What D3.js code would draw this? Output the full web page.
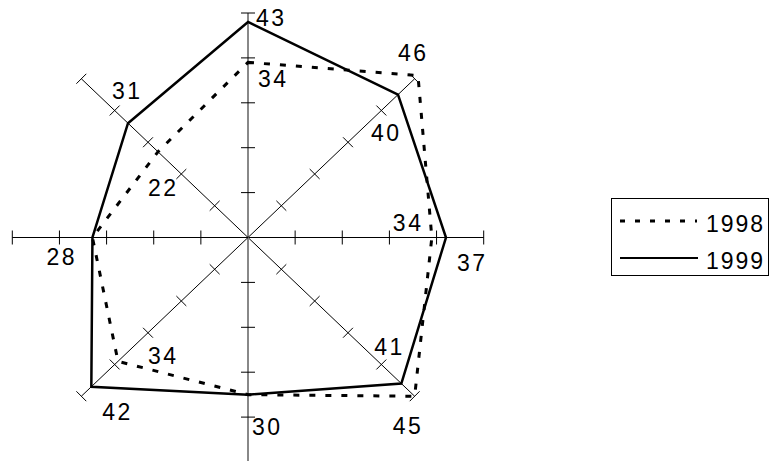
<!DOCTYPE html>
<html lang="en">
<head>
<meta charset="utf-8" />
<title>Radar Chart 1998 / 1999</title>
<script src="https://cdn.jsdelivr.net/npm/d3@7"></script>
<style>
  body { margin: 0; background: #fff; }
</style>
</head>
<body>
<svg id="radar" width="770" height="461"></svg>
<script>
// data
const seriesNames = ["1998", "1999"];
const values1998 = [34, 46, 34, 45, 30, 34, 28, 22];
const values1999 = [43, 40, 37, 41, 30, 42, 28, 31];
const axisTicks = [5, 15, 25, 35, 45];

// label placement, relative to each point (null = label hidden behind the other series)
const labelOffsets1998 = [[10, 25], [-20, -15], [-39, -7], [-22, 38], null, [30, 3], null, [-10, 44]];
const labelOffsets1999 = [[8, 4], [-27, 46], [11, 33], [-27, -29], [4, 40], [11, 33], [-46, 27], [-16, -24]];

const svg = d3.select("#radar").attr("font-family", "'Liberation Sans', Arial, sans-serif");

const cx = 248, cy = 237.5;
const rx = 235.7, ry = 224.5;

// radial fraction scale; the value axis runs from -5 to 45
const rScale = d3.scaleLinear().domain([-5, 45]).range([0, 1]);
const nAxes = values1999.length;
const angle = (i) => (i * 2 * Math.PI) / nAxes;

const px = (v, i) => cx + rx * rScale(v) * Math.sin(angle(i));
const py = (v, i) => cy - ry * rScale(v) * Math.cos(angle(i));

const mainGroup = svg.append("g");

// axes
const axes = mainGroup.append("g").attr("class", "axes");
d3.range(nAxes).forEach((i) => {
  const maxV = rScale.domain()[1];
  axes.append("line")
    .attr("x1", cx).attr("y1", cy)
    .attr("x2", px(maxV, i)).attr("y2", py(maxV, i))
    .attr("stroke", i % 4 === 0 ? "#888" : "#000")
    .attr("stroke-width", i % 4 === 0 ? 2 : 1);

  // ticks perpendicular to the axis
  const dx = Math.sin(angle(i)), dy = -Math.cos(angle(i));
  const tl = 7;
  axes.selectAll(null)
    .data(axisTicks)
    .enter()
    .append("line")
    .attr("x1", (t) => px(t, i) - dy * tl)
    .attr("y1", (t) => py(t, i) + dx * tl)
    .attr("x2", (t) => px(t, i) + dy * tl)
    .attr("y2", (t) => py(t, i) - dx * tl)
    .attr("stroke", "#000")
    .attr("stroke-width", 1);
});

const line = d3.line()
  .x((d, i) => px(d, i))
  .y((d, i) => py(d, i))
  .curve(d3.curveLinearClosed);

const series = [
  { name: "1998", values: values1998, offsets: labelOffsets1998, dash: "6,10" },
  { name: "1999", values: values1999, offsets: labelOffsets1999, dash: null }
];

mainGroup.selectAll(".line-path")
  .data(series)
  .enter()
  .append("path")
  .attr("class", "line-path")
  .attr("d", (d) => line(d.values))
  .attr("fill", "none")
  .attr("stroke", "#000")
  .attr("stroke-width", (d) => (d.dash ? 3 : 2.5))
  .attr("stroke-dasharray", (d) => d.dash)
  .attr("stroke-linejoin", "miter");

// data labels
series.forEach((s) => {
  mainGroup.selectAll(null)
    .data(s.values.map((v, i) => ({ v, i, off: s.offsets[i] })).filter((d) => d.off))
    .enter()
    .append("text")
    .attr("x", (d) => px(d.v, d.i) + d.off[0])
    .attr("y", (d) => py(d.v, d.i) + d.off[1])
    .attr("font-size", "23px")
    .attr("letter-spacing", "2.5px")
    .attr("fill", "#000")
    .text((d) => d.v);
});

// legend
const legend = svg.append("g").attr("class", "legend");
legend.append("rect")
  .attr("x", 611.5).attr("y", 198.5)
  .attr("width", 157).attr("height", 77)
  .attr("fill", "#fff")
  .attr("stroke", "#000")
  .attr("stroke-width", 1);

legend.selectAll(".legend-item")
  .data(series)
  .enter()
  .append("g")
  .attr("class", "legend-item")
  .attr("transform", (d, i) => `translate(0, ${i * 37})`)
  .call((g) => {
    g.append("line")
      .attr("x1", 620).attr("x2", (d) => (d.dash ? 697 : 698))
      .attr("y1", 221).attr("y2", 221)
      .attr("stroke", "#000")
      .attr("stroke-width", (d) => (d.dash ? 3 : 2))
      .attr("stroke-dasharray", (d) => (d.dash ? "5,10" : null));
    g.append("text")
      .attr("x", 706)
      .attr("y", 231.5)
      .attr("font-size", "23px")
      .attr("letter-spacing", "2px")
      .text((d) => d.name);
  });
</script>
</body>
</html>
